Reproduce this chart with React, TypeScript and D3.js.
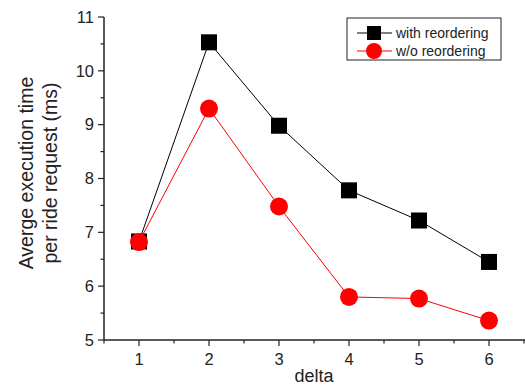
import React, { useEffect, useRef } from "react";
import * as d3 from "d3";

const deltas = [1, 2, 3, 4, 5, 6];
const withReordering = [6.83, 10.53, 8.98, 7.78, 7.22, 6.45];
const withoutReordering = [6.82, 9.3, 7.48, 5.8, 5.77, 5.36];
const yTicks = [5, 6, 7, 8, 9, 10, 11];

const App = () => {
  const svgRef = useRef<SVGSVGElement>(null);

  useEffect(() => {
    const width = 525;
    const height = 387;
    const svg = d3.select(svgRef.current);
    svg.selectAll("*").remove();
    svg.attr("width", width).attr("height", height);

    const font = "'Liberation Sans', Arial, sans-serif";

    const x = d3.scaleLinear().domain([0.5, 6.5]).range([104, 524]);
    const y = d3.scaleLinear().domain([5, 11]).range([340, 17]);

    // X axis
    const xAxis = svg.append("g").attr("transform", `translate(0,340)`);
    xAxis.append("line")
      .attr("x1", x(0.5)).attr("x2", width)
      .attr("stroke", "#222").attr("stroke-width", 1.5);
    d3.range(0.5, 6.51, 0.5).forEach(v => {
      const major = Number.isInteger(v);
      xAxis.append("line")
        .attr("x1", x(v)).attr("x2", x(v))
        .attr("y1", 0).attr("y2", major ? 6 : 3.5)
        .attr("stroke", "#222").attr("stroke-width", 1.2);
    });
    xAxis.selectAll("text.tick")
      .data(deltas)
      .join("text")
      .attr("x", d => x(d))
      .attr("y", 25)
      .attr("text-anchor", "middle")
      .style("font-family", font)
      .style("font-size", "16.5px")
      .attr("fill", "#222")
      .text(d => d);

    // Y axis
    const yAxis = svg.append("g").attr("transform", `translate(104,0)`);
    yAxis.append("line")
      .attr("y1", y(5)).attr("y2", y(11))
      .attr("stroke", "#222").attr("stroke-width", 1.5);
    d3.range(5, 11.01, 0.5).forEach(v => {
      const major = Number.isInteger(v);
      yAxis.append("line")
        .attr("x1", 0).attr("x2", major ? -6 : -3.5)
        .attr("y1", y(v)).attr("y2", y(v))
        .attr("stroke", "#222").attr("stroke-width", 1.2);
    });
    yAxis.selectAll("text.tick")
      .data(yTicks)
      .join("text")
      .attr("x", -10)
      .attr("y", d => y(d))
      .attr("dy", "0.35em")
      .attr("text-anchor", "end")
      .style("font-family", font)
      .style("font-size", "16.5px")
      .attr("fill", "#222")
      .text(d => d);

    // Axis labels
    svg.append("text")
      .attr("x", 314)
      .attr("y", 382)
      .attr("text-anchor", "middle")
      .style("font-family", font)
      .style("font-size", "18px")
      .attr("fill", "#222")
      .text("delta");

    const yLabel = svg.append("text")
      .attr("transform", "translate(33,173) rotate(-90)")
      .attr("text-anchor", "middle")
      .style("font-family", font)
      .style("font-size", "19.5px")
      .attr("fill", "#222");
    yLabel.append("tspan").attr("x", 0).attr("dy", 0).text("Averge execution time");
    yLabel.append("tspan").attr("x", 0).attr("dy", 24).text("per ride request (ms)");

    const line = d3.line<number>()
      .x((_, i) => x(deltas[i]))
      .y(d => y(d));

    // Black series
    svg.append("path")
      .datum(withReordering)
      .attr("d", line)
      .attr("fill", "none")
      .attr("stroke", "#000")
      .attr("stroke-width", 1);
    svg.selectAll("rect.pt")
      .data(withReordering)
      .join("rect")
      .attr("x", (_, i) => x(deltas[i]) - 8)
      .attr("y", d => y(d) - 8)
      .attr("width", 16)
      .attr("height", 16)
      .attr("fill", "#000");

    // Red series
    svg.append("path")
      .datum(withoutReordering)
      .attr("d", line)
      .attr("fill", "none")
      .attr("stroke", "#ff0000")
      .attr("stroke-width", 1);
    svg.selectAll("circle.pt")
      .data(withoutReordering)
      .join("circle")
      .attr("cx", (_, i) => x(deltas[i]))
      .attr("cy", d => y(d))
      .attr("r", 9)
      .attr("fill", "#ff0000");

    // Legend
    const legend = svg.append("g");
    legend.append("rect")
      .attr("x", 347).attr("y", 18)
      .attr("width", 154).attr("height", 42)
      .attr("fill", "#fff")
      .attr("stroke", "#222")
      .attr("stroke-width", 1);
    const items = [
      { label: "with reordering", color: "#000", shape: "square", cy: 33 },
      { label: "w/o reordering", color: "#ff0000", shape: "circle", cy: 51 },
    ];
    items.forEach(it => {
      legend.append("line")
        .attr("x1", 357).attr("x2", 392)
        .attr("y1", it.cy).attr("y2", it.cy)
        .attr("stroke", it.color).attr("stroke-width", 1);
      if (it.shape === "square") {
        legend.append("rect")
          .attr("x", 374 - 7).attr("y", it.cy - 7)
          .attr("width", 14).attr("height", 14)
          .attr("fill", it.color);
      } else {
        legend.append("circle")
          .attr("cx", 374).attr("cy", it.cy).attr("r", 8)
          .attr("fill", it.color);
      }
      legend.append("text")
        .attr("x", 396)
        .attr("y", it.cy)
        .attr("dy", "0.35em")
        .style("font-family", font)
        .style("font-size", "14px")
        .attr("fill", "#222")
        .text(it.label);
    });
  }, []);

  return (
    <div style={{ position: "absolute", left: 0, top: 0 }}>
      <svg ref={svgRef}></svg>
    </div>
  );
};

export default App;
